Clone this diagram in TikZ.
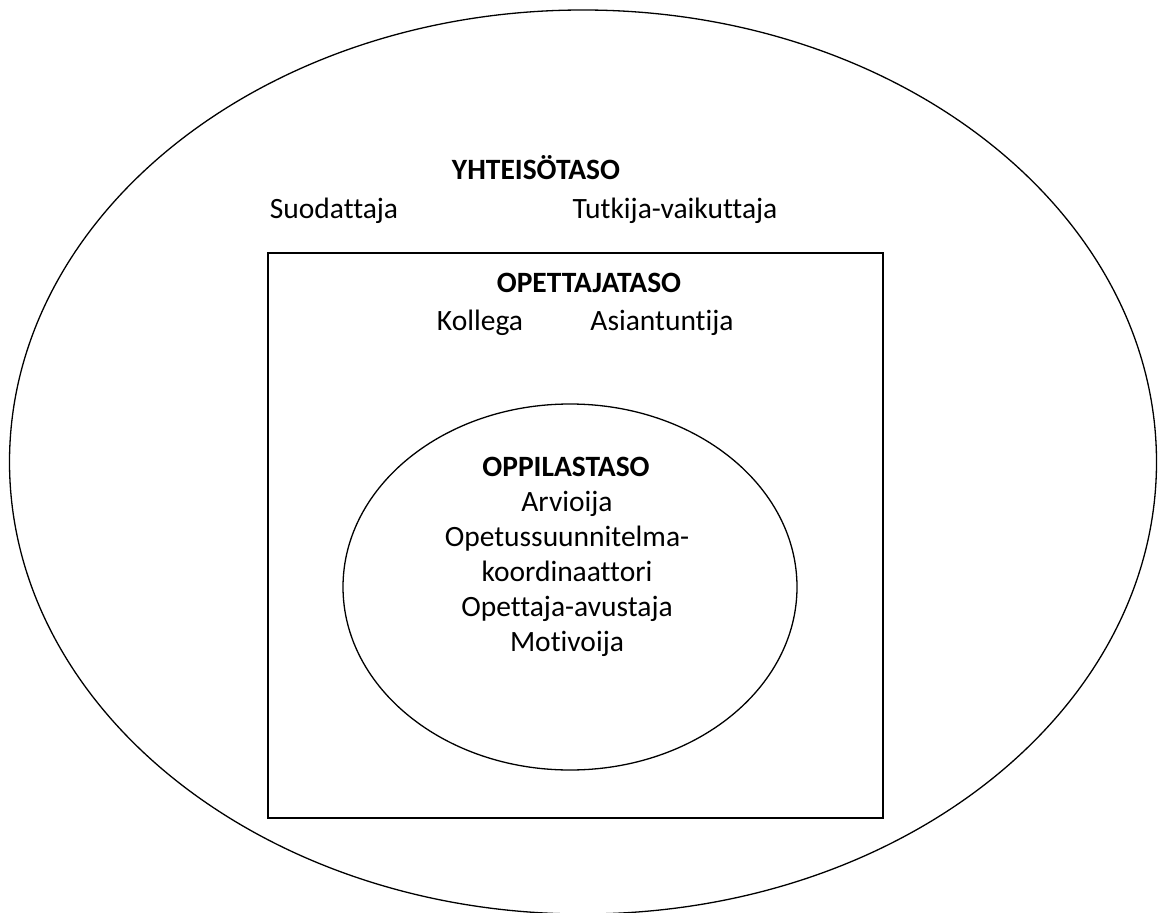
\documentclass[tikz,border=0pt]{standalone}
\usepackage{fontspec}
\setmainfont{Carlito}[Ligatures=NoCommon]
\begin{document}
\begin{tikzpicture}[x=1pt,y=-1pt,
  shape line/.style={draw=black,line width=1.3pt},
  lbl/.style={font=\fontsize{29.5}{35}\selectfont,anchor=base,inner sep=0pt},
  head/.style={lbl,font=\fontsize{29.5}{35}\selectfont\bfseries}]
\useasboundingbox (0,0) rectangle (1158,912);
\clip (0,0) rectangle (1158,912);
\fill[white] (0,0) rectangle (1158,912);
% outer ellipse
\draw[shape line] (583,462) ellipse [x radius=573.5, y radius=452];
% rectangle
\draw[shape line] (268,253) rectangle (883,818);
% inner ellipse
\draw[shape line] (570,587) ellipse [x radius=227, y radius=183];
% texts
\node[head] (yht) at (536,179) {YHTEISÖTASO};
\node[lbl] (suo) at (334,218) {Suodattaja};
\node[lbl] (tut) at (675,218) {Tutkija-vaikuttaja};
\node[head] (ope) at (589,292) {OPETTAJATASO};
\node[lbl] (kol) at (480,330) {Kollega};
\node[lbl] (asi) at (662,330) {Asiantuntija};
\node[head] (opp) at (566,476) {OPPILASTASO};
\node[lbl,align=center] (list) at (567,651) {Arvioija\\Opetussuunnitelma-\\koordinaattori\\Opettaja-avustaja\\Motivoija};
\end{tikzpicture}
\end{document}
